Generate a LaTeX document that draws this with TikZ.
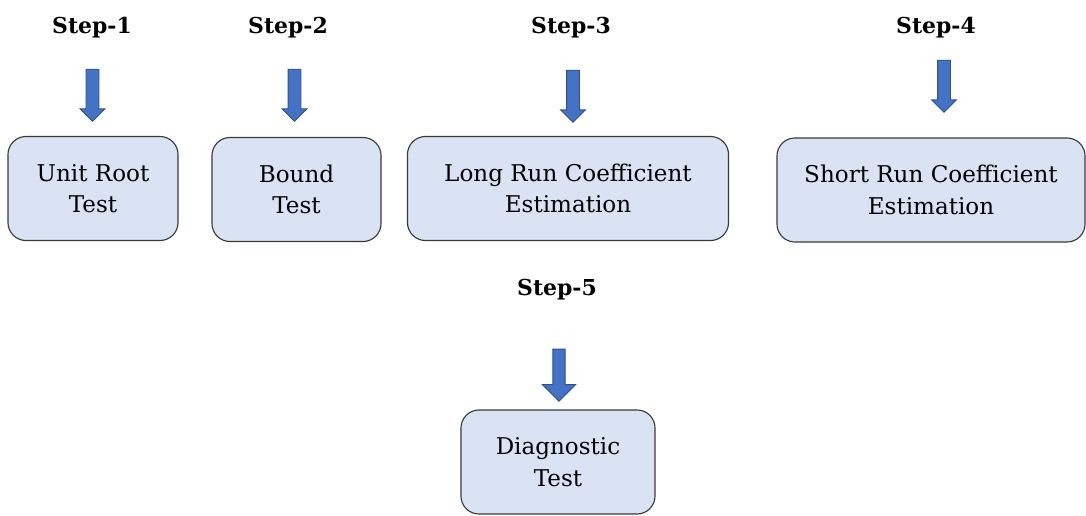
\documentclass[tikz,border=0pt]{standalone}
\usepackage{fontspec}
\setmainfont{DejaVu Serif}
\usetikzlibrary{shapes.arrows}

\definecolor{boxfill}{HTML}{DAE3F3}
\definecolor{boxline}{HTML}{3A3A3A}
\definecolor{arrowfill}{HTML}{4472C4}
\definecolor{arrowline}{HTML}{2F528F}

\tikzset{
  stepbox/.style={draw=boxline, fill=boxfill, line width=0.8pt, rounded corners=0.45cm,
    minimum height=2.6cm, align=center, font=\fontsize{16.4}{22.5}\selectfont},
  steplabel/.style={anchor=base, font=\fontsize{15.6}{18}\selectfont\bfseries},
  downarrow/.style={single arrow, shape border rotate=270, draw=arrowline, fill=arrowfill,
    line width=0.7pt, minimum height=1.3cm, minimum width=0.6cm, inner sep=0.15cm,
    single arrow head extend=0.15cm}
}

\begin{document}
\begin{tikzpicture}[x=0.025cm, y=-0.025cm]
\useasboundingbox (0,0) rectangle (1086,515);

% Step labels
\node[steplabel] (s1) at (92,33) {Step-1};
\node[steplabel] (s2) at (288,33) {Step-2};
\node[steplabel] (s3) at (571,33) {Step-3};
\node[steplabel] (s4) at (936,33) {Step-4};
\node[steplabel] (s5) at (557,295) {Step-5};

% Boxes
\node[stepbox, minimum width=4.25cm] (unitroot) at (93,188.5) {Unit Root\\Test};
\node[stepbox, minimum width=4.225cm] (bound) at (296.5,189.5) {Bound\\Test};
\node[stepbox, minimum width=8.025cm] (longrun) at (568,188.5) {Long Run Coefficient\\Estimation};
\node[stepbox, minimum width=7.7cm] (shortrun) at (931,190) {Short Run Coefficient\\Estimation};
\node[stepbox, minimum width=4.85cm] (diagnostic) at (558,462) {Diagnostic\\Test};

% Arrows
\node[downarrow] (a1) at (92.5,92) {};
\node[downarrow] (a2) at (294.5,92) {};
\node[downarrow] (a3) at (573,93) {};
\node[downarrow] (a4) at (944,83) {};
\node[downarrow, minimum width=0.8cm, inner sep=0.14cm, single arrow head extend=0.26cm] (a5) at (559,372) {};
\end{tikzpicture}
\end{document}
